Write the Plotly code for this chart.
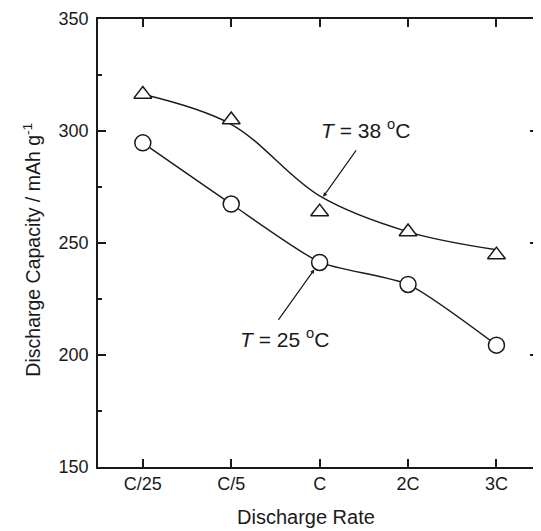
import plotly.graph_objects as go

# discharge rates on the x axis
rates = ["C/25", "C/5", "C", "2C", "3C"]

# measured capacities (mAh/g)
cap_38 = [316.4, 305.0, 263.9, 255.0, 244.7]
cap_25 = [294.7, 267.4, 241.3, 231.5, 204.4]

# smoothed guide curves
fit_38 = [316.4, 303.0, 271.0, 255.0, 247.0]
fit_25 = [294.7, 267.4, 241.5, 231.5, 204.4]

y_ticks = [150, 200, 250, 300, 350]

FONT = "Arial, Liberation Sans, sans-serif"
INK = "#1a1a1a"

fig = go.Figure()

# guide curves first so the open markers sit on top of them
for fit, smooth in ((fit_38, 1.0), (fit_25, 0.6)):
    fig.add_scatter(x=rates, y=fit, mode="lines",
                    line=dict(color=INK, width=1.4, shape="spline", smoothing=smooth),
                    hoverinfo="skip", showlegend=False)

fig.add_scatter(x=rates, y=cap_38, mode="markers", name="T = 38 °C",
                marker=dict(symbol="triangle-up", size=15.5, color="white",
                            line=dict(color=INK, width=1.5)),
                showlegend=False)
fig.add_scatter(x=rates, y=cap_25, mode="markers", name="T = 25 °C",
                marker=dict(symbol="circle", size=16, color="white",
                            line=dict(color=INK, width=1.5)),
                showlegend=False)

# labels with arrows pointing at the curves
fig.add_annotation(x=2.04, y=270.6, text="", showarrow=True,
                   ax=34, ay=-48, arrowhead=2, arrowsize=0.7, arrowwidth=1.2,
                   arrowcolor=INK)
fig.add_annotation(x=1.94, y=238.2, text="", showarrow=True,
                   ax=-37, ay=52, arrowhead=2, arrowsize=0.7, arrowwidth=1.2,
                   arrowcolor=INK)
fig.add_annotation(x=2.52, y=300.8, text="<i>T</i> = 38 <sup>o</sup>C",
                   showarrow=False, font=dict(size=21, color=INK, family=FONT))
fig.add_annotation(x=1.60, y=207.8, text="<i>T</i> = 25 <sup>o</sup>C",
                   showarrow=False, font=dict(size=21, color=INK, family=FONT))

# axis titles as annotations so they can sit where the reference has them
fig.add_annotation(xref="paper", yref="paper", x=0.473, y=-0.111,
                   text="Discharge Rate", showarrow=False, yanchor="middle",
                   font=dict(size=20, color=INK, family=FONT))
fig.add_annotation(xref="paper", yref="paper", x=-0.181, y=0.486,
                   text="Discharge Capacity / mAh g<sup>-1</sup>", showarrow=False,
                   textangle=-90, font=dict(size=19.5, color=INK, family=FONT))

axis_common = dict(showline=True, linecolor=INK, linewidth=1.5, mirror="ticks",
                   ticks="inside", tickcolor=INK, tickwidth=1.5,
                   showgrid=False, zeroline=False, ticklabeloverflow="allow",
                   tickfont=dict(size=18, color=INK, family=FONT))

fig.update_xaxes(type="category", range=[-0.507, 4.47], ticklen=8, **axis_common)
fig.update_yaxes(range=[150, 350], tickvals=y_ticks, ticklen=8,
                 ticklabelstandoff=4,
                 minor=dict(dtick=25, ticks="inside", ticklen=4,
                            tickcolor=INK, tickwidth=1.5, showgrid=False),
                 **axis_common)

# the page body adds 8px, so the figure is 8px smaller and the margins shifted
fig.update_layout(width=533, height=523,
                  margin=dict(l=90, r=1, t=8, b=64),
                  paper_bgcolor="white", plot_bgcolor="white",
                  font=dict(family=FONT, color=INK))

fig.write_html("out.html")
